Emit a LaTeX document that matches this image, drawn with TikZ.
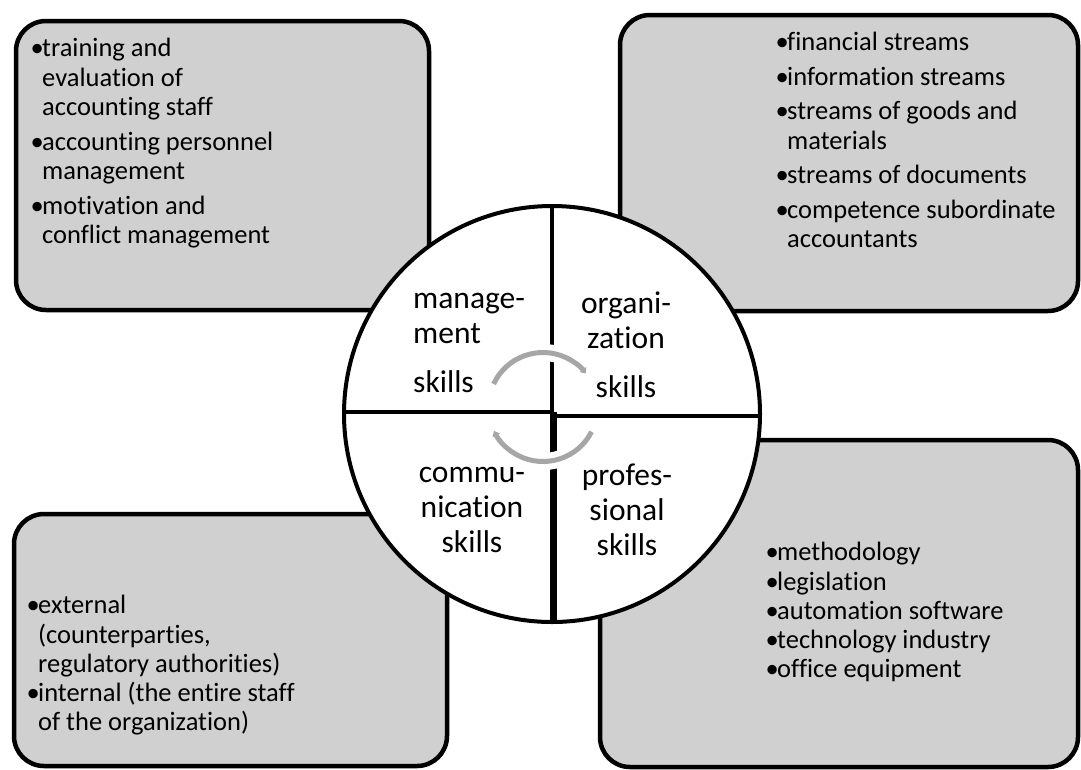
\documentclass[tikz,border=0pt]{standalone}
\usepackage{fontspec}
\setmainfont{Carlito}[Ligatures=NoCommon]
\usetikzlibrary{arrows.meta}
\definecolor{boxgray}{RGB}{208,208,208}
\definecolor{arcgray}{RGB}{166,166,166}
\newcommand{\bulmark}{\makebox[10pt][c]{•}}
\newcommand{\hind}{\hspace*{10pt}}
\begin{document}
\begin{tikzpicture}[x=1pt,y=-1pt,
  panel/.style={draw=black, line width=4.5pt, fill=boxgray, rounded corners=30pt},
  listtop/.style={anchor=north west, inner sep=0pt, align=left, font=\fontsize{26.5}{29.5}\selectfont},
  listbot/.style={anchor=north west, inner sep=0pt, align=left, font=\fontsize{26.5}{29.3}\selectfont},
  skilltext/.style={inner sep=0pt, font=\fontsize{31.5}{35}\selectfont},
  cyclearrow/.style={draw=arcgray, line width=5pt, -{Triangle[length=5pt,width=8pt]}},
  casing/.style={draw=white, line width=17pt}]
\useasboundingbox (0,0) rectangle (1081,769);
\begin{scope}
\clip (0,0) rectangle (1081,769);
% panels
\draw[panel] (16,21) rectangle (429,310);
\draw[panel] (620,15) rectangle (1078,311);
\draw[panel] (14,514) rectangle (447,766);
\draw[panel] (600,440) rectangle (1078,767);
\end{scope}
% panel texts
\node[listtop] (tltext) at (32,36) {\strut\bulmark training and\\\hind evaluation of\\\hind accounting staff\\[5pt]\bulmark accounting personnel\\\hind management\\[5pt]\bulmark motivation and\\\hind conflict management};
\node[listtop] (trtext) at (777,30) {\strut\bulmark financial streams\\[5pt]\bulmark information streams\\[5pt]\bulmark streams of goods and\\\hind materials\\[5pt]\bulmark streams of documents\\[5pt]\bulmark competence subordinate\\\hind accountants};
\node[listbot] (bltext) at (28,593) {\strut\bulmark external\\\hind (counterparties,\\\hind regulatory authorities)\\\bulmark internal (the entire staff\\\hind of the organization)};
\node[listbot] (brtext) at (767,540) {\strut\bulmark methodology\\\bulmark legislation\\\bulmark automation software\\\bulmark technology industry\\\bulmark office equipment};
% circle
\coordinate (c) at (552,414);
\fill[white] (c) circle[radius=208];
\begin{scope}
\clip (c) circle[radius=208];
\draw[line width=4pt] (330,412) -- (554,412);
\draw[line width=4pt] (550,416) -- (780,416);
\draw[line width=4pt] (552,190) -- (552,414);
\draw[line width=7pt] (553,412) -- (553,640);
\end{scope}
\draw[line width=4pt] (c) circle[radius=208];
% cycle arrows
\coordinate (ac) at (543,407);
\draw[casing] (ac) ++(-155:54.5) arc[start angle=-155, end angle=-40, radius=54.5];
\draw[casing] (ac) ++(27:54.5) arc[start angle=27, end angle=152, radius=54.5];
\draw[cyclearrow] (ac) ++(-155:54.5) arc[start angle=-155, end angle=-38, radius=54.5];
\draw[cyclearrow] (ac) ++(27:54.5) arc[start angle=27, end angle=154, radius=54.5];
% skill labels
\node[skilltext, anchor=north west, align=left] (mgmt) at (413,283.5) {\strut manage-\\ment\\[14pt]skills};
\node[skilltext, anchor=north, align=center] (org) at (626,288.5) {\strut organi-\\zation\\[14pt]skills};
\node[skilltext, anchor=north, align=center] (comm) at (472,457.5) {\strut commu-\\nication\\skills};
\node[skilltext, anchor=north, align=center] (prof) at (627,460.5) {\strut profes-\\sional\\skills};
\end{tikzpicture}
\end{document}
